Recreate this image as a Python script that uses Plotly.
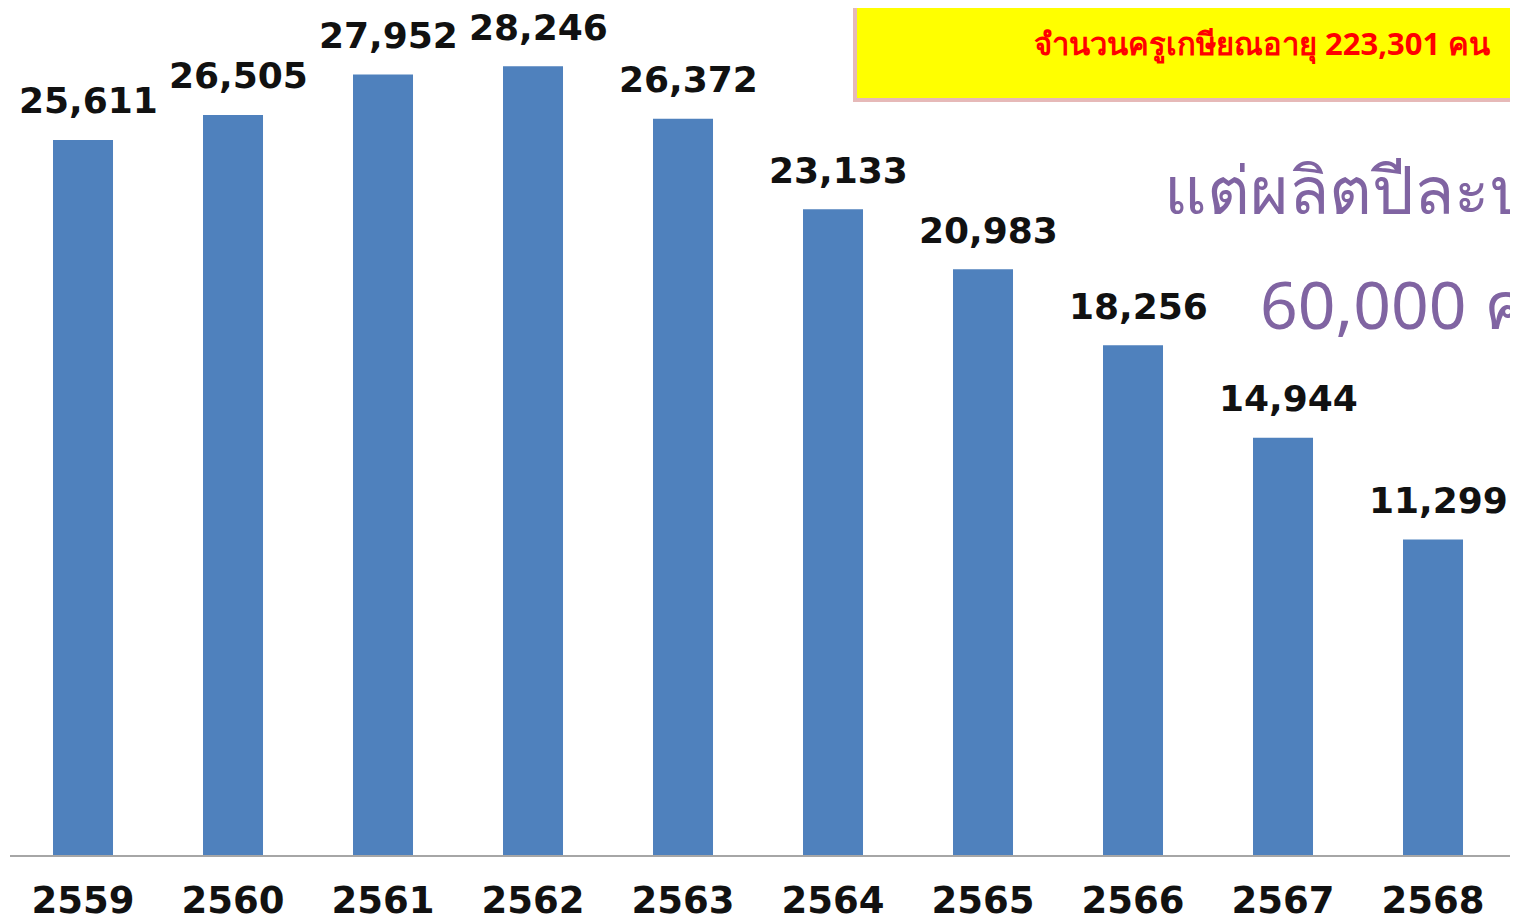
import plotly.graph_objects as go

years = ["2559", "2560", "2561", "2562", "2563", "2564", "2565", "2566", "2567", "2568"]
retirees = [25611, 26505, 27952, 28246, 26372, 23133, 20983, 18256, 14944, 11299]
box_text = "จำนวนครูเกษียณอายุ 223,301 คน"
note_line1 = "แต่ผลิตปีละประมาณ"
note_line2 = "60,000 คน"

OFF = 8  # page body margin
W, H = 1518 - OFF, 924 - OFF
ML, MB = 2, 69
PW, PH = W - ML, H - MB

def px(x):
    return (x - OFF - ML) / PW

def py(y):
    return 1 - (y - OFF) / PH

fig = go.Figure()
fig.add_trace(go.Bar(
    x=list(range(len(years))), y=retirees,
    marker=dict(color="#4f81bd", line=dict(width=0)),
    width=0.4, hoverinfo="skip",
))

for i, v in enumerate(retirees):
    fig.add_annotation(x=i, y=v, text=f"{v:,}", showarrow=False,
                       xref="x", yref="y", yanchor="middle", xanchor="center",
                       yshift=39, xshift=5,
                       font=dict(family="DejaVu Sans", size=36, color="#111111", weight="bold"))

# yellow box
fig.add_shape(type="rect", xref="paper", yref="paper",
              x0=px(855), x1=px(1540), y0=py(100), y1=py(-20),
              fillcolor="#ffff00", line=dict(color="#e6b9b8", width=4), layer="above")
fig.add_annotation(xref="paper", yref="paper", x=px(1492), y=py(43),
                   xanchor="right", yanchor="middle", text=box_text, showarrow=False,
                   font=dict(family="Noto Sans", size=31, color="#ff0000", weight="bold"))

fig.add_annotation(xref="paper", yref="paper", x=px(1162), y=py(188),
                   xanchor="left", yanchor="middle", text=note_line1, showarrow=False,
                   font=dict(family="Noto Sans", size=66, color="#8064a2"))
fig.add_annotation(xref="paper", yref="paper", x=px(1258), y=py(303),
                   xanchor="left", yanchor="middle", text=note_line2, showarrow=False,
                   font=dict(family="Noto Sans", size=66, color="#8064a2"))

fig.update_layout(
    width=W, height=H,
    margin=dict(l=ML, r=0, t=0, b=MB),
    paper_bgcolor="white", plot_bgcolor="white",
    showlegend=False,
    xaxis=dict(range=[-0.4867, -0.4867 + PW / 150], tickmode="array",
               tickvals=list(range(len(years))), ticktext=years,
               showline=True, linecolor="#a6a6a6", linewidth=2,
               showgrid=False, zeroline=False, ticks="", automargin=False,
               tickfont=dict(family="DejaVu Sans", size=37, color="#111111", weight="bold"),
               ticklabelstandoff=12),
    yaxis=dict(range=[0, PH / 0.02792], visible=False, showgrid=False, zeroline=False),
)

fig.write_html("out.html")
